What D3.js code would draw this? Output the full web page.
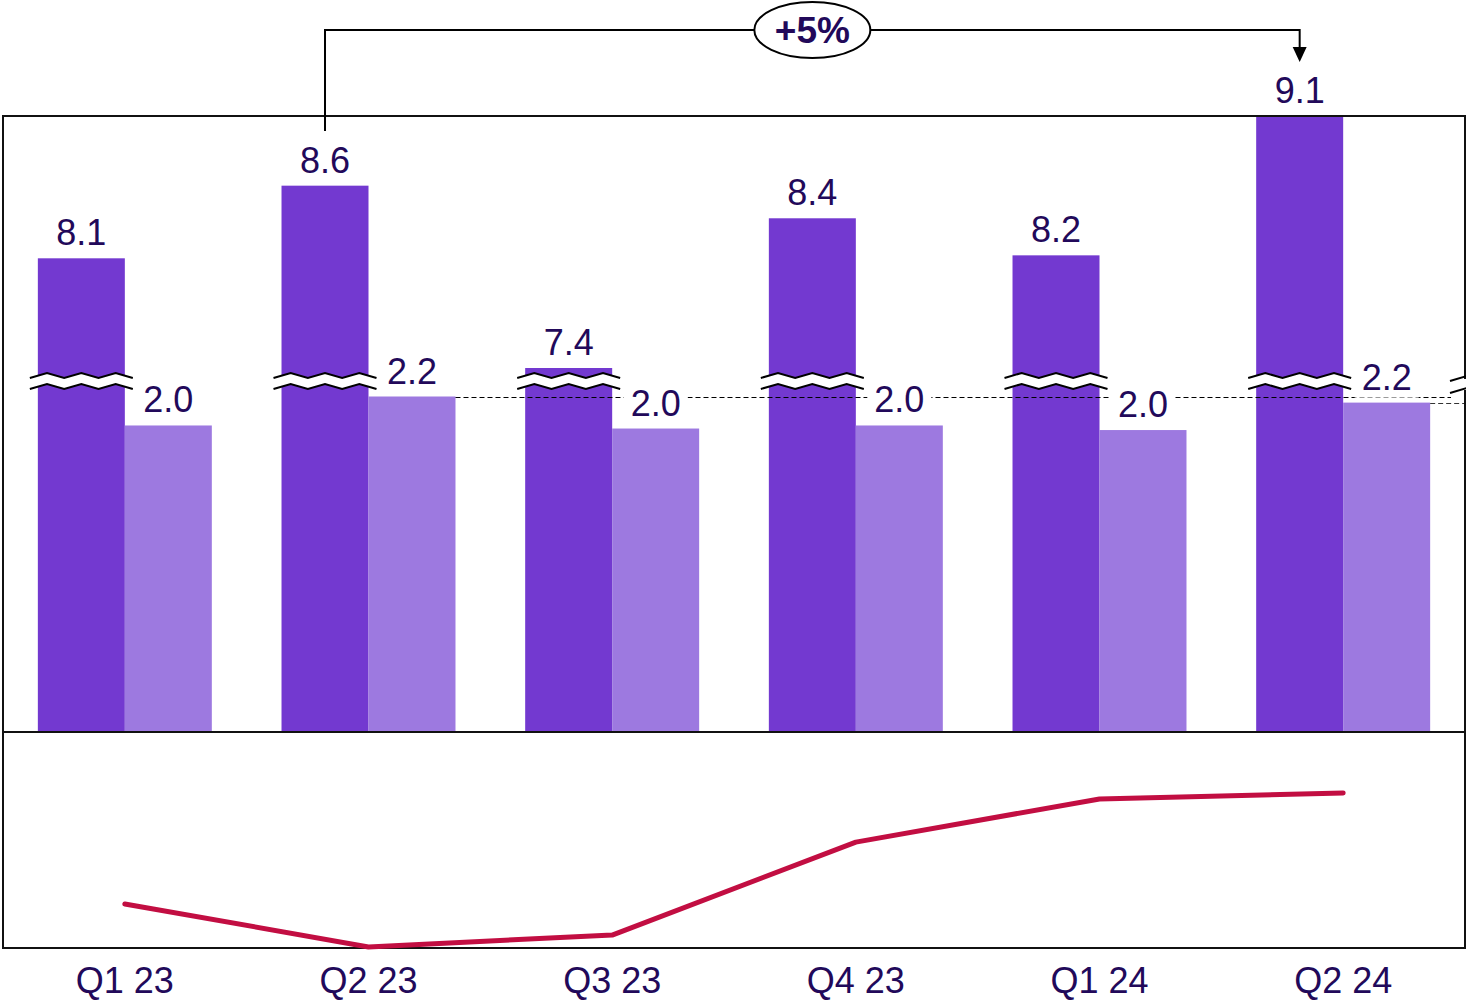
<!DOCTYPE html>
<html>
<head>
<meta charset="utf-8">
<script src="https://cdn.jsdelivr.net/npm/d3@7"></script>
<style>
  body { margin: 0; background: #fff; }
  text { font-family: "Liberation Sans", Arial, sans-serif; }
</style>
</head>
<body>
<svg width="1466" height="1001"></svg>
<script>
const quarters = ["Q1 23", "Q2 23", "Q3 23", "Q4 23", "Q1 24", "Q2 24"];
const darkValues = [8.14, 8.63, 7.40, 8.41, 8.16, 9.10];
const lightValues = [2.01, 2.20, 1.99, 2.01, 1.98, 2.16];
const trendValues = [20.4, 0.5, 6.0, 49.0, 69.0, 71.8];
const changeLabel = "+5%";

const textColor = "#22095a";
const darkColor = "#7339d0";
const lightColor = "#9d79e0";
const lineColor = "#c20e42";

const svg = d3.select("svg");

const frameL = 3, frameR = 1465, frameT = 116, frameMid = 732, frameB = 948;

const x = d3.scaleBand()
    .domain(quarters)
    .range([frameL, frameR])
    .paddingInner(0.286)
    .paddingOuter(0.143);
const bw = x.bandwidth() / 2;

// lower segment of the broken axis (light bars, and foot of dark bars)
const yLow = d3.scaleLinear().domain([0, 2.2]).range([frameMid, 396.5]);
// upper segment above the break (dark bar tops)
const yHigh = d3.scaleLinear().domain([7.4, 9.1]).range([368, frameT]);
const yTrend = d3.scaleLinear().domain([0, 100]).range([frameB, frameMid]);

const data = quarters.map((q, i) => ({ q, dark: darkValues[i], light: lightValues[i], trend: trendValues[i] }));
const fmt = d3.format(".1f");

// bars
svg.append("g").selectAll("rect")
    .data(data)
    .join("rect")
    .attr("x", d => x(d.q))
    .attr("y", d => yHigh(d.dark))
    .attr("width", bw)
    .attr("height", d => frameMid - yHigh(d.dark))
    .attr("fill", darkColor);

svg.append("g").selectAll("rect")
    .data(data)
    .join("rect")
    .attr("x", d => x(d.q) + bw)
    .attr("y", d => yLow(d.light))
    .attr("width", bw)
    .attr("height", d => frameMid - yLow(d.light))
    .attr("fill", lightColor);

// reference dashed lines
const ref1 = Math.round(yLow(lightValues[1])) + 0.5;
svg.append("line")
    .attr("x1", x(quarters[1]) + 2 * bw).attr("x2", frameR - 14)
    .attr("y1", ref1).attr("y2", ref1)
    .attr("stroke", "#000").attr("stroke-width", 1.2)
    .attr("stroke-dasharray", "5,3");
const ref2 = Math.round(yLow(lightValues[5])) + 0.5;
svg.append("line")
    .attr("x1", x(quarters[5]) + 2 * bw).attr("x2", frameR)
    .attr("y1", ref2).attr("y2", ref2)
    .attr("stroke", "#333").attr("stroke-width", 1.2)
    .attr("stroke-dasharray", "5,3");

// axis-break zigzags on dark bars
const breakTop = 373, amp = 5, gap = 11;
function zig(x0, x1, y0) {
  const n = 6, pts = [];
  for (let k = 0; k <= n; k++) {
    pts.push([x0 + (x1 - x0) * k / n, k % 2 === 0 ? y0 + amp : y0]);
  }
  return pts;
}
const breaks = svg.append("g").selectAll("g")
    .data(data)
    .join("g");
breaks.each(function(d) {
  const g = d3.select(this);
  const x0 = x(d.q) - 8, x1 = x(d.q) + bw + 8;
  const up = zig(x0, x1, breakTop);
  const lo = zig(x0, x1, breakTop + gap);
  g.append("path")
      .attr("d", d3.line()(up.concat(lo.slice().reverse())) + "Z")
      .attr("fill", "#fff");
  g.append("path").attr("d", d3.line()(up))
      .attr("fill", "none").attr("stroke", "#000").attr("stroke-width", 2);
  g.append("path").attr("d", d3.line()(lo))
      .attr("fill", "none").attr("stroke", "#000").attr("stroke-width", 2);
});

// frame
svg.append("rect")
    .attr("x", frameL).attr("y", frameT)
    .attr("width", frameR - frameL).attr("height", frameB - frameT)
    .attr("fill", "none").attr("stroke", "#111").attr("stroke-width", 2);
svg.append("line")
    .attr("x1", frameL).attr("x2", frameR)
    .attr("y1", frameMid).attr("y2", frameMid)
    .attr("stroke", "#111").attr("stroke-width", 2);

// break mark on the right edge
svg.append("rect").attr("x", frameR - 3).attr("y", 379).attr("width", 6).attr("height", 11).attr("fill", "#fff");
[[381, 376], [393, 388]].forEach(([ya, yb]) => {
  svg.append("line")
      .attr("x1", frameR - 15).attr("y1", ya)
      .attr("x2", frameR + 2).attr("y2", yb)
      .attr("stroke", "#000").attr("stroke-width", 2);
});

// value labels
const labels = svg.append("g")
    .attr("font-size", 36)
    .attr("fill", textColor)
    .attr("text-anchor", "middle");

labels.selectAll(".dl")
    .data(data)
    .join("text")
    .attr("class", "dl")
    .attr("x", d => x(d.q) + bw / 2)
    .attr("y", d => yHigh(d.dark) - 13)
    .text(d => fmt(d.dark));

const lightLabels = labels.selectAll(".ll")
    .data(data)
    .join("text")
    .attr("class", "ll")
    .attr("x", d => x(d.q) + bw * 1.5)
    .attr("y", d => yLow(d.light) - 13)
    .text(d => fmt(d.light));

// white masks behind light labels so the dashed line breaks around them
lightLabels.each(function() {
  const b = this.getBBox();
  labels.insert("rect", ".ll")
      .attr("x", b.x - 7).attr("y", b.y + 4)
      .attr("width", b.width + 14).attr("height", b.height - 4)
      .attr("fill", "#fff");
});

// trend line
svg.append("path")
    .datum(data)
    .attr("fill", "none")
    .attr("stroke", lineColor)
    .attr("stroke-width", 5)
    .attr("stroke-linecap", "round")
    .attr("stroke-linejoin", "round")
    .attr("d", d3.line()
        .x(d => x(d.q) + bw)
        .y(d => yTrend(d.trend)));

// x labels
svg.append("g").selectAll("text")
    .data(quarters)
    .join("text")
    .attr("x", d => x(d) + bw)
    .attr("y", 993)
    .attr("text-anchor", "middle")
    .attr("font-size", 36)
    .attr("fill", textColor)
    .text(d => d);

// change annotation
const ax0 = x(quarters[1]) + bw / 2;
const ax1 = x(quarters[5]) + bw / 2;
const ay = 30;
svg.append("path")
    .attr("d", `M${ax0},131 V${ay} H${ax1} V48`)
    .attr("fill", "none").attr("stroke", "#000").attr("stroke-width", 2);
svg.append("path")
    .attr("d", `M${ax1 - 7},47 L${ax1 + 7},47 L${ax1},62 Z`)
    .attr("fill", "#000");
svg.append("ellipse")
    .attr("cx", (ax0 + ax1) / 2).attr("cy", ay)
    .attr("rx", 58).attr("ry", 28)
    .attr("fill", "#fff").attr("stroke", "#000").attr("stroke-width", 2);
svg.append("text")
    .attr("x", (ax0 + ax1) / 2).attr("y", ay + 13)
    .attr("text-anchor", "middle")
    .attr("font-size", 37)
    .attr("font-weight", "bold")
    .attr("fill", textColor)
    .text(changeLabel);
</script>
</body>
</html>
